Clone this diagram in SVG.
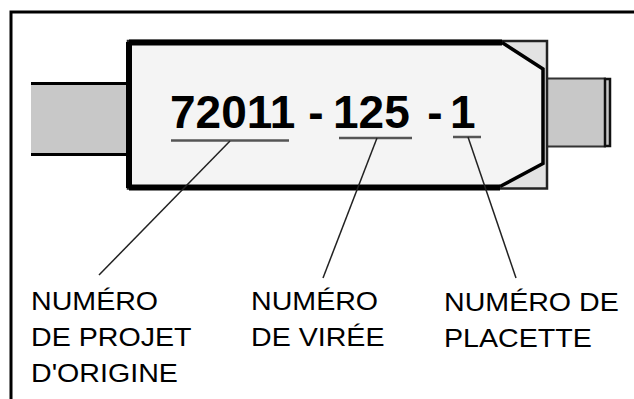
<svg xmlns="http://www.w3.org/2000/svg" width="634" height="399" viewBox="0 0 634 399">
<style>
.num{font-family:"Liberation Sans",Arial,sans-serif;font-weight:bold;font-size:46px;fill:#000}
.lbl{font-family:"Liberation Sans",Arial,sans-serif;font-size:26px;fill:#000}
.ul{stroke:#555;stroke-width:2.5;fill:none}
.conn{stroke:#222;stroke-width:1.5;fill:none}
</style>
<rect width="634" height="399" fill="#fff"/>
<path d="M11,399 V12 H634" fill="none" stroke="#000" stroke-width="3"/>
<g id="tag">
  <rect x="31" y="83" width="97" height="71" fill="#c8c8c8"/>
  <path d="M31,83.5 H128 M31,154.5 H128" stroke="#000" stroke-width="3"/>
  <rect x="547" y="78.5" width="58" height="68" fill="#c8c8c8" stroke="#333" stroke-width="2"/>
  <rect x="605" y="79" width="5" height="67" fill="#c8c8c8" stroke="#111" stroke-width="2.5"/>
  <rect x="128" y="41" width="419" height="147.5" fill="#e2e2e2" stroke="#222" stroke-width="2.5"/>
  <path d="M129,42.5 H502 L543,69 V163.5 L500,186.5 H129 Z" fill="#f4f4f4"/>
  <path d="M129,42.5 H502 M129,187.5 H500 M129,42 V188" stroke="#000" stroke-width="6" fill="none"/>
  <path d="M502,42.5 L543,69 V163.5 L500,186.5" stroke="#000" stroke-width="3.5" fill="none"/>
</g>
<g id="code">
  <text class="num" x="170" y="128">72011</text>
  <text class="num" x="316" y="128" text-anchor="middle">-</text>
  <text class="num" x="333" y="128">125</text>
  <text class="num" x="435" y="128" text-anchor="middle">-</text>
  <text class="num" x="450" y="128">1</text>
  <path class="ul" d="M171,140.5 H289 M339,138 H412 M453,137 H481"/>
</g>
<g id="connectors">
  <line class="conn" x1="230" y1="141" x2="99" y2="275"/>
  <line class="conn" x1="377" y1="138" x2="323" y2="278"/>
  <line class="conn" x1="468" y1="137" x2="516" y2="278"/>
</g>
<g id="label-projet" transform="translate(31,0) scale(1.1,1)">
  <text class="lbl" x="0" y="310">NUMÉRO</text>
  <text class="lbl" x="0" y="346">DE PROJET</text>
  <text class="lbl" x="0" y="382">D'ORIGINE</text>
</g>
<g id="label-viree" transform="translate(251,0) scale(1.1,1)">
  <text class="lbl" x="0" y="310">NUMÉRO</text>
  <text class="lbl" x="0" y="346">DE VIRÉE</text>
</g>
<g id="label-placette" transform="translate(444,0) scale(1.1,1)">
  <text class="lbl" x="0" y="311">NUMÉRO DE</text>
  <text class="lbl" x="0" y="347">PLACETTE</text>
</g>
</svg>
